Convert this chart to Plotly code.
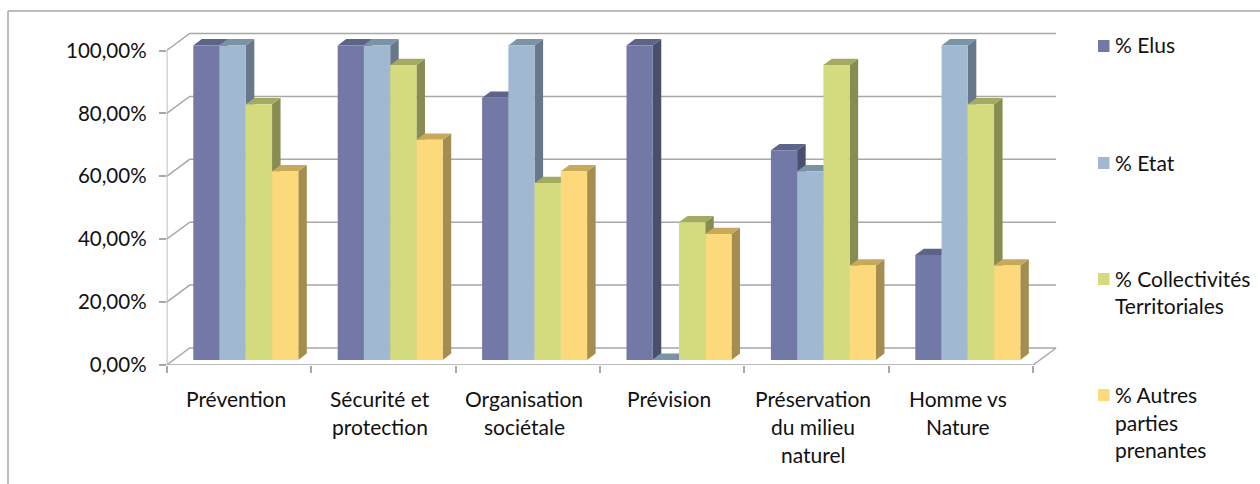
import plotly.graph_objects as go

categories = ["Prévention", "Sécurité et<br>protection", "Organisation<br>sociétale", "Prévision",
              "Préservation<br>du milieu<br>naturel", "Homme vs<br>Nature"]
elus = [100, 100, 83.33, 100, 66.67, 33.33]
etat = [100, 100, 100, 0, 60, 100]
collectivites = [81.25, 93.75, 56.25, 43.75, 93.75, 81.25]
autres = [60, 70, 60, 40, 30, 30]
series_names = ["% Elus", "% Etat", "% Collectivités<br>Territoriales", "% Autres<br>parties<br>prenantes"]
series_values = [elus, etat, collectivites, autres]
y_ticks = [0, 20, 40, 60, 80, 100]
y_tick_labels = ["0,00%", "20,00%", "40,00%", "60,00%", "80,00%", "100,00%"]

front_colors = ["#7379a6", "#a1b8d1", "#d4db7e", "#fcd97b"]
top_colors = ["#5e6489", "#7b93a6", "#a4aa60", "#c8a95a"]
side_colors = ["#4a4f6e", "#66788a", "#878c50", "#a48d4e"]
GRID = "#a8a8a8"
FONT = "Lato"
FS = 21

W, H = 1260, 484
PX_L, PX_R, PX_T, PX_B = 166.7, 1060.0, 28.0, 365.0
CAT_W = 144.4
UNIT = 3.145
DX = 23.0 / CAT_W
DY = 17.0 / UNIT
BAR_W = 26.25 / CAT_W
D_FRONT, D_BACK = 0.30, 0.67
n = len(categories)

x_range = [0, (PX_R - PX_L) / CAT_W]
y_range = [0, (PX_B - PX_T) / UNIT]


def proj(x, v, d):
    return x + DX * d, v + DY * d


fig = go.Figure()

gx, gy = [], []
for v in y_ticks:
    gx += [0, DX, n + DX, None]
    gy += [v, v + DY, v + DY, None]
gx += [0, n, n + DX, None, 0, 0, None]
gy += [0, 0, DY, None, 0, 100, None]
fig.add_trace(go.Scatter(x=gx, y=gy, mode="lines", line=dict(color=GRID, width=1.5),
                         hoverinfo="skip", showlegend=False, xaxis="x", yaxis="y"))

for i in range(n):
    for j, vals in enumerate(series_values):
        v = vals[i]
        xl = i + 0.5 + (j - 2) * BAR_W
        xr = xl + BAR_W
        corners = [proj(xr, 0, D_FRONT), proj(xr, 0, D_BACK), proj(xr, v, D_BACK), proj(xr, v, D_FRONT)]
        fig.add_trace(go.Scatter(x=[c[0] for c in corners] + [corners[0][0]],
                                 y=[c[1] for c in corners] + [corners[0][1]],
                                 mode="lines", fill="toself", fillcolor=side_colors[j],
                                 line=dict(width=0, color=side_colors[j]),
                                 hoverinfo="skip", showlegend=False, xaxis="x", yaxis="y"))
        corners = [proj(xl, v, D_FRONT), proj(xr, v, D_FRONT), proj(xr, v, D_BACK), proj(xl, v, D_BACK)]
        fig.add_trace(go.Scatter(x=[c[0] for c in corners] + [corners[0][0]],
                                 y=[c[1] for c in corners] + [corners[0][1]],
                                 mode="lines", fill="toself", fillcolor=top_colors[j],
                                 line=dict(width=0, color=top_colors[j]),
                                 hoverinfo="skip", showlegend=False, xaxis="x", yaxis="y"))

shift_x, base = proj(0, 0, D_FRONT)
for j, vals in enumerate(series_values):
    fig.add_trace(go.Bar(x=[i + 0.5 + (j - 1.5) * BAR_W + shift_x for i in range(n)], y=vals,
                         base=base, width=BAR_W, marker=dict(color=front_colors[j], line=dict(width=0)),
                         name=series_names[j].replace("<br>", " "), showlegend=False,
                         xaxis="x2", yaxis="y2"))

legend_line_px = [[45], [162], [278, 305], [394, 422, 449]]
shapes = [
    dict(type="line", xref="paper", yref="paper", x0=8 / W, x1=8 / W, y0=0, y1=1 - 11 / H,
         line=dict(color=GRID, width=1.5)),
    dict(type="line", xref="paper", yref="paper", x0=8 / W, x1=1, y0=1 - 11 / H, y1=1 - 11 / H,
         line=dict(color=GRID, width=1.5)),
]
annotations = []
for j, name in enumerate(series_names):
    first = legend_line_px[j][0] + 1
    shapes.append(dict(type="rect", xref="paper", yref="paper", x0=1098 / W, x1=1109.5 / W,
                       y0=1 - (first + 6) / H, y1=1 - (first - 6) / H,
                       fillcolor=front_colors[j], line=dict(width=0)))
    for text, py in zip(name.split("<br>"), legend_line_px[j]):
        annotations.append(dict(xref="paper", yref="paper", x=1115 / W, y=1 - py / H, text=text,
                                showarrow=False, xanchor="left", yanchor="middle",
                                xshift=-2, font=dict(family=FONT, size=FS, color="#111111")))

cat_line_px = [398, 426, 454]
for i, cat in enumerate(categories):
    for text, py in zip(cat.split("<br>"), cat_line_px):
        annotations.append(dict(xref="x", yref="paper", x=i + 0.5 - 3.3 / CAT_W, y=1 - py / H, text=text,
                                showarrow=False, xanchor="center", yanchor="middle",
                                font=dict(family=FONT, size=FS, color="#111111")))

axis_hidden = dict(visible=False, fixedrange=True)
fig.update_layout(
    width=W, height=H, autosize=False, margin=dict(l=0, r=0, t=0, b=0, pad=0, autoexpand=False),
    paper_bgcolor="white", plot_bgcolor="white", showlegend=False,
    barmode="overlay", shapes=shapes, annotations=annotations,
    font=dict(family=FONT, size=FS, color="#111111"),
    xaxis=dict(domain=[PX_L / W, PX_R / W], range=x_range, showgrid=False, zeroline=False, showline=False,
               ticks="", showticklabels=False, fixedrange=True,
               tickvals=[], minor=dict(tickvals=list(range(n + 1)), ticks="outside", ticklen=7,
                                       tickcolor=GRID, tickwidth=1.5, showgrid=False)),
    yaxis=dict(domain=[1 - PX_B / H, 1 - PX_T / H], range=y_range, showgrid=False, zeroline=False, showline=False,
               tickvals=y_ticks, ticktext=y_tick_labels, ticks="outside", ticklen=7, tickcolor=GRID,
               tickwidth=1.5, ticklabelstandoff=8, fixedrange=True,
               tickfont=dict(family=FONT, size=20.5, color="#111111")),
    xaxis2=dict(domain=[PX_L / W, PX_R / W], range=x_range, overlaying="x", anchor="y2", **axis_hidden),
    yaxis2=dict(domain=[1 - PX_B / H, 1 - PX_T / H], range=y_range, overlaying="y", anchor="x2", **axis_hidden),
)

fig.write_html("out.html", config=dict(displayModeBar=False, responsive=False),
               default_width="1260px", default_height="484px",
               post_script="document.body.style.margin='0';document.body.style.overflow='hidden';")
